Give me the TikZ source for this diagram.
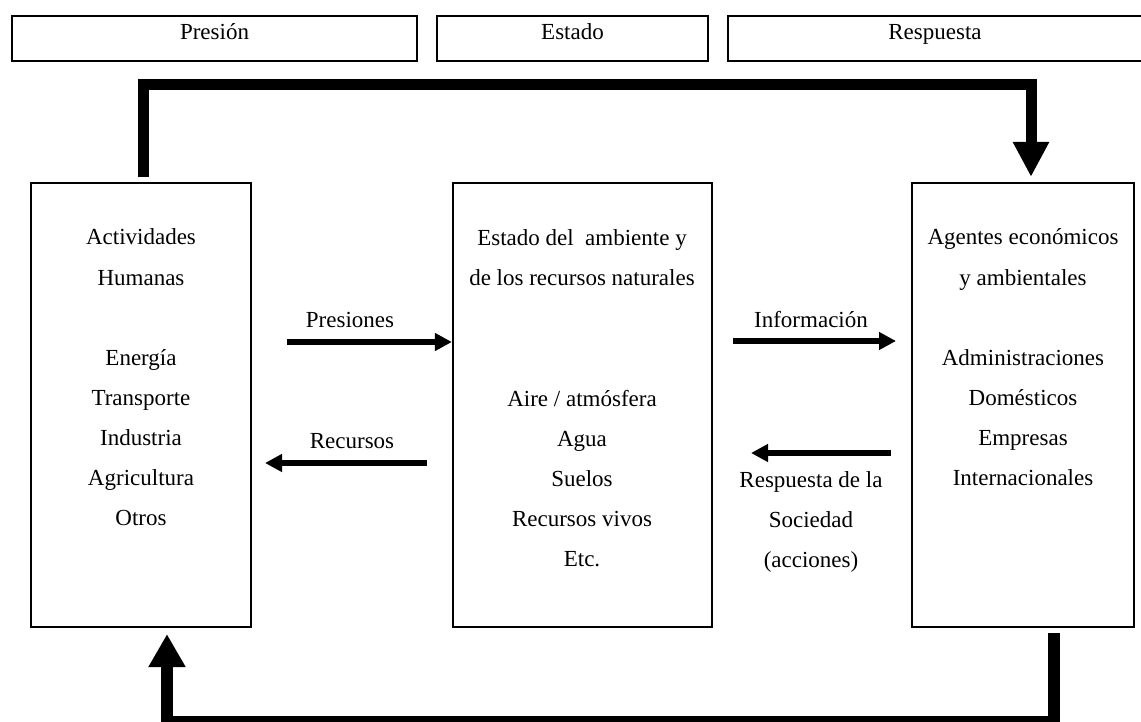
\documentclass[tikz,border=0pt]{standalone}
\usepackage{fontspec}
\setmainfont{Liberation Serif}
\usetikzlibrary{arrows.meta}
\begin{document}
\begin{tikzpicture}[x=1pt,y=-1pt,
  box/.style={draw, line width=2.2pt, inner sep=0pt},
  txt/.style={anchor=base, font=\fontsize{23}{27}\selectfont, inner sep=0pt},
  bigtop/.style={line width=11pt, line join=miter, -{Triangle[length=35pt,width=34pt]}},
  bigbot/.style={line width=12pt, line join=miter, -{Triangle[length=33pt,width=35pt]}},
  smallarrow/.style={line width=6.5pt, -{Triangle[length=17pt,width=17pt]}}]
\useasboundingbox (0,0) rectangle (1141,722);
% header boxes
\node[box, minimum width=405pt, minimum height=45pt] (hp) at (214.5,38.5) {};
\node[box, minimum width=271pt, minimum height=45pt] (he) at (572.5,38.5) {};
\node[box, minimum width=430pt, minimum height=45pt] (hr) at (943,38.5) {};
\node[txt] (hpt) at (214.5,40) {Presión};
\node[txt] (het) at (572.5,40) {Estado};
\node[txt] (hrt) at (935,40) {Respuesta};
% main boxes
\node[box, minimum width=220pt, minimum height=444pt] (l) at (141,405) {};
\node[box, minimum width=259pt, minimum height=444pt] (m) at (582.5,405) {};
\node[box, minimum width=222pt, minimum height=444pt] (r) at (1023,405) {};
% left box text
\node[txt] (l1) at (141,245) {Actividades};
\node[txt] (l2) at (141,285) {Humanas};
\node[txt] (l3) at (141,365) {Energía};
\node[txt] (l4) at (141,405) {Transporte};
\node[txt] (l5) at (141,445) {Industria};
\node[txt] (l6) at (141,485) {Agricultura};
\node[txt] (l7) at (141,525) {Otros};
% middle box text
\node[txt] (m1) at (582,246) {Estado del\ \ ambiente y};
\node[txt] (m2) at (582,286) {de los recursos naturales};
\node[txt] (m3) at (582,406) {Aire / atmósfera};
\node[txt] (m4) at (582,446) {Agua};
\node[txt] (m5) at (582,486) {Suelos};
\node[txt] (m6) at (582,526) {Recursos vivos};
\node[txt] (m7) at (582,566) {Etc.};
% right box text
\node[txt] (r1) at (1023,245) {Agentes económicos};
\node[txt] (r2) at (1023,285) {y ambientales};
\node[txt] (r3) at (1023,365) {Administraciones};
\node[txt] (r4) at (1023,405) {Domésticos};
\node[txt] (r5) at (1023,445) {Empresas};
\node[txt] (r6) at (1023,485) {Internacionales};
% arrow labels
\node[txt] (lp) at (350,327) {Presiones};
\node[txt] (lrc) at (352,448) {Recursos};
\node[txt] (li) at (811,327) {Información};
\node[txt] (lr1) at (811,487) {Respuesta de la};
\node[txt] (lr2) at (811,527) {Sociedad};
\node[txt] (lr3) at (811,567) {(acciones)};
% small arrows
\coordinate (pa) at (287,342);
\draw[smallarrow] (pa) -- (pa -| m.west);
\coordinate (ra) at (427,463);
\coordinate (rb) at (265,463);
\draw[smallarrow] (ra) -- (rb);
\coordinate (ia) at (733,341);
\coordinate (ib) at (896,341);
\draw[smallarrow] (ia) -- (ib);
\coordinate (sa) at (891,453);
\coordinate (sb) at (751,453);
\draw[smallarrow] (sa) -- (sb);
% big loop connectors
\coordinate (tl) at (143.5,84.5);
\coordinate (tr) at (1031,84.5);
\draw[bigtop] ([xshift=2.5pt,yshift=5pt]l.north) -- (tl) -- (tr) -- ([xshift=8pt,yshift=5pt]r.north);
\coordinate (br) at (1054,722);
\coordinate (bl) at (167,722);
\draw[bigbot] ([xshift=31pt,yshift=-5pt]r.south) -- (br) -- (bl) -- ([xshift=26pt,yshift=-6pt]l.south);
\end{tikzpicture}
\end{document}
